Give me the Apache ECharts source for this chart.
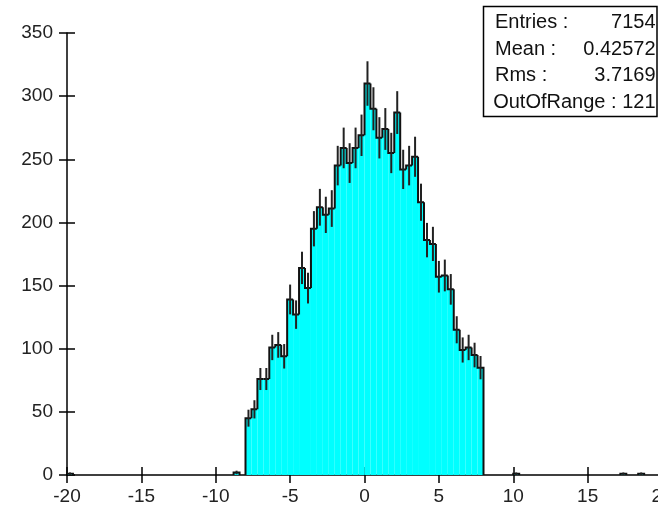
<!DOCTYPE html>
<html>
<head>
<meta charset="utf-8">
<script src="https://cdn.jsdelivr.net/npm/echarts@6/dist/echarts.min.js"></script>
<style>
html,body{margin:0;padding:0;background:#fff;}
#chart{width:658px;height:509px;}
</style>
</head>
<body>
<div id="chart"></div>
<script>
// Histogram bins (left edges) and counts
const binWidth = 0.4;
const binLeft = [-8.0,-7.6,-7.2,-6.8,-6.4,-6.0,-5.6,-5.2,-4.8,-4.4,-4.0,-3.6,-3.2,-2.8,-2.4,-2.0,-1.6,-1.2,-0.8,-0.4,
                 0.0,0.4,0.8,1.2,1.6,2.0,2.4,2.8,3.2,3.6,4.0,4.4,4.8,5.2,5.6,6.0,6.4,6.8,7.2,7.6];
const counts = [45,52,76,76,101,103,94,139,127,164,148,195,212,206,211,245,259,247,259,269,
                310,290,267,274,255,287,242,245,252,216,186,183,157,158,147,115,99,101,95,85];
// Sparse outlying bins
const outlierLeft = [-20.0,-8.8,10.0,17.2,18.4];
const outlierCounts = [1,2,1,1,1];
// Axis ticks
const xTicks = [-20,-15,-10,-5,0,5,10,15,20];
const yTicks = [0,50,100,150,200,250,300,350];
// Stats box
const statLabels = ['Entries :','Mean :','Rms :'];
const statValues = ['7154','0.42572','3.7169'];
const outOfRangeText = 'OutOfRange : 121';

const FONT = 'Liberation Sans, Arial, sans-serif';

// combine into a bin table
const bins = [];
outlierLeft.forEach((x,i)=>{ if (x < binLeft[0]) bins.push([x, outlierCounts[i]]); });
binLeft.forEach((x,i)=>bins.push([x, counts[i]]));
outlierLeft.forEach((x,i)=>{ if (x >= binLeft[0]) bins.push([x, outlierCounts[i]]); });
bins.sort((a,b)=>a[0]-b[0]);

function prevVal(idx){
  if (idx === 0) return 0;
  const p = bins[idx-1];
  if (Math.abs(p[0] + binWidth - bins[idx][0]) < 1e-6) return p[1];
  return 0;
}
function nextContig(idx){
  if (idx === bins.length-1) return false;
  return Math.abs(bins[idx][0] + binWidth - bins[idx+1][0]) < 1e-6;
}

function renderBin(params, api){
  const idx = params.dataIndex;
  const x0 = api.value(0), v = api.value(1);
  const x1 = x0 + binWidth;
  const p00 = api.coord([x0, 0]);
  const p0v = api.coord([x0, v]);
  const p1v = api.coord([x1, v]);
  const p10 = api.coord([x1, 0]);
  const pv = api.coord([x0, prevVal(idx)]);
  const pts = [pv, p0v, p1v];
  if (!nextContig(idx)) pts.push(p10);
  const c = x0 + binWidth/2;
  const e = Math.sqrt(v);
  const eLo = api.coord([c, v - e]);
  const eHi = api.coord([c, v + e]);
  return {
    type: 'group',
    children: [
      {type:'rect', shape:{x:p0v[0], y:p0v[1], width:p1v[0]-p0v[0], height:p00[1]-p0v[1]},
       style:{fill:'#00ffff', stroke:null}},
      {type:'polyline', shape:{points:pts}, style:{stroke:'#111', lineWidth:2, fill:null}},
      {type:'line', shape:{x1:eLo[0], y1:eLo[1], x2:eHi[0], y2:eHi[1]}, style:{stroke:'#222', lineWidth:2}}
    ]
  };
}

const chart = echarts.init(document.getElementById('chart'), null, {renderer:'canvas'});

const gridDef = {left:67, width:595, top:33, height:442, outerBoundsMode:'none'};
const axisLineStyle = {color:'#000', width:1.5};

const graphics = [
  {type:'rect', shape:{x:483.5, y:6.5, width:173.5, height:110}, style:{fill:'#fff', stroke:'#000', lineWidth:1.5}, z:100}
];
statLabels.forEach((t,i)=>{
  graphics.push({type:'text', x:495, y:22.5 + i*26.6, z:101,
    style:{text:t, font:'20px ' + FONT, fill:'#111', textVerticalAlign:'middle', textAlign:'left'}});
  graphics.push({type:'text', x:655.5, y:22.5 + i*26.6, z:101,
    style:{text:statValues[i], font:'20px ' + FONT, fill:'#111', textVerticalAlign:'middle', textAlign:'right'}});
});
graphics.push({type:'text', x:655.5, y:22.5 + 3*26.6, z:101,
  style:{text:outOfRangeText, font:'20px ' + FONT, fill:'#111', textVerticalAlign:'middle', textAlign:'right'}});

chart.setOption({
  animation:false,
  backgroundColor:'#fff',
  grid: gridDef,
  xAxis: [
    {type:'value', min:xTicks[0], max:xTicks[xTicks.length-1], interval:5,
     axisLine:{show:true, onZero:false, lineStyle:axisLineStyle},
     axisTick:{show:true, length:8, inside:false, lineStyle:{color:'#000', width:1.5}},
     axisLabel:{show:true, fontSize:19, fontFamily:FONT, color:'#222', margin:12,
                showMinLabel:true, showMaxLabel:true},
     splitLine:{show:false}},
    {type:'value', min:xTicks[0], max:xTicks[xTicks.length-1], interval:5, position:'bottom',
     axisLine:{show:false, onZero:false},
     axisTick:{show:true, length:8, inside:true, lineStyle:{color:'#000', width:1.5}},
     axisLabel:{show:false}, splitLine:{show:false}}
  ],
  yAxis: [
    {type:'value', min:yTicks[0], max:yTicks[yTicks.length-1], interval:50,
     axisLine:{show:true, onZero:false, lineStyle:axisLineStyle},
     axisTick:{show:true, length:8, inside:false, lineStyle:{color:'#000', width:1.5}},
     axisLabel:{show:true, fontSize:19, fontFamily:FONT, color:'#222', margin:14},
     splitLine:{show:false}},
    {type:'value', min:yTicks[0], max:yTicks[yTicks.length-1], interval:50, position:'left',
     axisLine:{show:false, onZero:false},
     axisTick:{show:true, length:8, inside:true, lineStyle:{color:'#000', width:1.5}},
     axisLabel:{show:false}, splitLine:{show:false}}
  ],
  series: [
    {type:'custom', xAxisIndex:0, yAxisIndex:0, renderItem:renderBin, data:bins, clip:true, z:2}
  ],
  graphic: graphics
});
</script>
</body>
</html>
